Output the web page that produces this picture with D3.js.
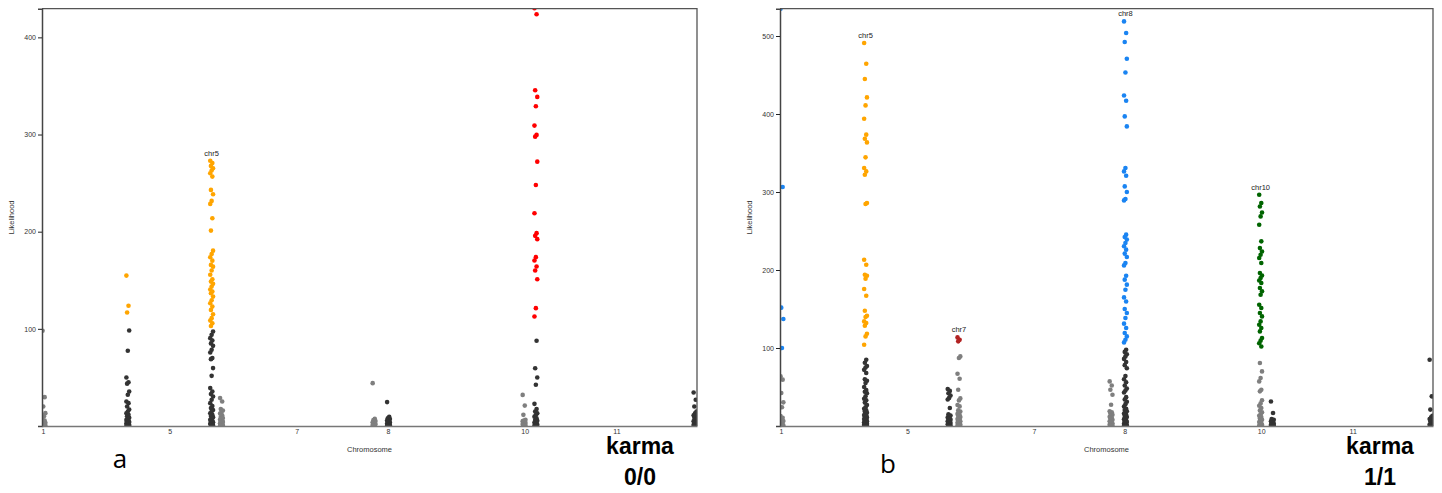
<!DOCTYPE html>
<html>
<head>
<meta charset="utf-8">
<script src="https://cdn.jsdelivr.net/npm/d3@7"></script>
<style>
  body { margin: 0; background: #fff; }
  svg { display: block; }
</style>
</head>
<body>
<div id="chart"></div>
<script>
// chromosome tick positions (cumulative genome position, percent) and labels
var tickPos = [0.15, 19.5, 38.9, 52.8, 73.7, 87.7];
var tickLabels = ["1", "5", "7", "8", "10", "11"];

// x position of each plotted column (percent of genome)
var colPos = [0.3, 13.1, 25.9, 27.4, 50.7, 52.9, 73.6, 75.4, 99.7];
var colBase = ["#7f7f7f", "#333333", "#333333", "#7f7f7f", "#7f7f7f", "#333333", "#7f7f7f", "#333333", "#333333"];

// panel a: likelihood values per column
var a1 = [98, 29.7, 20, 13.2, 10, 6.8, 5.5, 4.5, 3.4, 2.6, 2, 1.4, 1, 0.6, 0.3];
var a2 = [154.8, 123.7, 116.8, 98.3, 77.4, 49.9, 45, 43.6, 35.5, 32.1, 25.2, 23.5, 20.1, 17, 15, 13, 11.5, 10, 8.5, 7.3, 6.3, 5.5, 4.8, 4, 3.5, 2.8, 2.2, 1.6, 1, 0.6, 0.3];
var a3 = [273, 270.6, 267.7, 265.3, 262.9, 260.2, 256.7, 243, 238.5, 231.7, 228.6, 213.9, 201.1, 180.5, 177, 173.7, 170.2, 165.8, 164, 160, 155.6, 151, 148.6, 146.3, 143.5, 140.5, 138.4, 136.7, 133.2, 129.5, 126.3, 122.9, 119.5, 115, 111, 108.5, 105.8, 102.9,
          97.2, 93.8, 90.4, 88, 85, 82.5, 78.4, 75.6, 69.9, 68.8, 59.6, 51.6, 39, 35.5, 33, 30.3, 27, 23.5, 20.5, 18.4, 16.5, 14.9, 13, 11.5, 10.2, 9.1, 7.7, 6.4, 5.5, 4.6, 3.8, 3, 2.3, 1.8, 1.2, 0.6, 0.3];
var a4 = [28.7, 25.2, 17.5, 16, 14.5, 12.8, 11, 9.3, 8.2, 7.5, 6.6, 5.8, 5, 4.2, 3.5, 2.8, 2.1, 1.5, 1, 0.6, 0.3];
var a5 = [44.1, 7.5, 6, 5.2, 4.5, 3.8, 3.2, 2.6, 2, 1.5, 1, 0.6, 0.3];
var a6 = [24.6, 9.5, 8, 7.2, 6.5, 5.7, 5, 4.3, 3.6, 3, 2.4, 1.8, 1.3, 0.9, 0.5, 0.2];
var a7 = [32, 21, 11.5, 6.5, 5.7, 5, 4.4, 3.8, 3.2, 2.6, 2, 1.5, 1, 0.6, 0.3];
var a8 = [430, 423.8, 345.6, 338.7, 329.1, 309.2, 299.6, 297.8, 272.1, 248.1, 219, 198.5, 195.7, 192.3, 173.8, 170.3, 164.1, 160, 151.1, 121.3, 112.7,
          87.7, 59.5, 49.9, 42.4, 22.8, 17.4, 15, 13, 11.2, 9.6, 8, 6.2, 5.3, 4.5, 3.6, 2.8, 2.1, 1.5, 1, 0.5, 0.2];
var a9 = [34.5, 27, 20, 15, 13, 11, 9.7, 8.5, 7.2, 6, 5, 4, 3.2, 2.5, 1.8, 1.2, 0.7, 0.3];
var aHigh = [null, "#ffa500", "#ffa500", null, null, null, null, "#ff0000", null];
var aLabels = [null, null, "chr5", null, null, null, null, null, null];

// panel b
var b1 = [535, 306.4, 151.7, 137.2, 100, 63.6, 59.4, 42.3, 30.3, 24, 12.6, 10.5, 8.4, 6.5, 5, 3.5, 2, 1.3, 0.8, 0.3];
var b2 = [491, 464.5, 444.9, 421.3, 411, 394, 373.5, 368.3, 363.6, 344.4, 330.8, 326.4, 322.2, 285.9, 284.6, 213.2, 206.8, 194, 192.7, 188.8, 175.6, 167, 147.8, 141.4, 139.7, 134.1, 132, 128.6, 118.3, 114.9, 104.2,
          85, 81, 77, 75, 72, 68, 60, 58, 55, 50, 46, 44, 42, 38, 35, 33, 30, 27, 24, 22, 20, 18.5, 17, 15, 14, 13, 12, 11, 10, 9, 8, 7, 6.2, 5.5, 4.7, 4, 3.4, 2.8, 2.2, 1.6, 1.1, 0.6, 0.3];
var b3 = [47.4, 45, 42, 39, 36, 34, 23, 15, 13.5, 12.5, 11, 10, 9, 8, 7, 6, 5.2, 4.5, 3.7, 3, 2.4, 1.8, 1.2, 0.7, 0.3];
var b4 = [113.6, 110.6, 108.5, 89.2, 87.2, 67, 60.6, 46.5, 35.4, 32.8, 27, 25.1, 20, 18.5, 17, 15.5, 14, 12.7, 11.5, 10.2, 9, 8, 7, 6, 5, 4.1, 3.2, 2.5, 1.8, 1.2, 0.7, 0.3];
var b5 = [57.2, 52, 46.5, 40.1, 27.3, 19, 17.5, 16, 14.5, 13, 11.7, 10.5, 9.2, 8, 7, 6, 5, 4, 3.2, 2.5, 1.8, 1.2, 0.7, 0.3];
var b6 = [518.7, 503.8, 492.3, 470.9, 453.3, 423.8, 417, 396.9, 384.1, 330.8, 326.4, 320.9, 307.2, 300, 291, 289.2, 245.3, 242.3, 239, 234.7, 230.4, 226.1, 221, 216.6, 209, 205.9, 192.7, 187.6, 181.2, 174.7, 164.9, 159.7, 150, 144.9, 138.5, 131.2, 125.6, 119.2, 114.9, 110.6, 107.2,
          97.8, 95, 92, 89.2, 86, 82, 78, 74, 64, 60, 56, 52, 48, 45.5, 43, 37, 34, 31, 28, 25, 22, 20.5, 19, 17.5, 16, 14.5, 13, 11.5, 10, 8.8, 7.5, 6.2, 5, 4, 3, 2.2, 1.5, 1, 0.5, 0.2];
var b7 = [296.5, 285.9, 281.5, 273.8, 268.7, 258, 236.7, 228.1, 223.8, 219.6, 215.4, 209, 196.2, 193, 189.7, 186.5, 183.3, 176.9, 172.6, 168.3, 155.5, 151.3, 144.9, 140.5, 134.1, 129.8, 125.6, 121.3, 112.8, 109.4, 106, 102,
          80.8, 70, 61.5, 57.2, 46.5, 44.4, 33, 29, 26, 23, 20, 17.5, 15, 13, 11.5, 9.7, 8, 6.5, 5, 3.7, 2.5, 1.6, 0.8, 0.3];
var b8 = [31.5, 16.7, 9, 8, 7, 6, 5, 4, 3, 2.2, 1.5, 0.9, 0.5, 0.2];
var b9 = [85, 38, 21, 13, 11, 9, 7.5, 6, 4.5, 3, 2, 1.2, 0.5];
var bHigh = ["#1a84f2", "#ffa500", null, "#b22222", null, "#1a84f2", "#006400", null, null];
var bLabels = [null, "chr5", null, "chr7", null, "chr8", "chr10", null, null];

var threshold = 100;

var svg = d3.select("#chart").append("svg")
    .attr("width", 1442)
    .attr("height", 493)
    .style("font-family", "'Liberation Sans', Arial, sans-serif");

function drawPanel(id, box, yMax, yTicks, cols, high, labels) {
    var x = d3.scaleLinear().domain([0, 100]).range([box.x0, box.x1]);
    var y = d3.scaleLinear().domain([0, yMax]).range([box.y1, box.y0]);

    svg.append("clipPath").attr("id", "clip-" + id)
      .append("rect")
        .attr("x", box.x0).attr("y", box.y0)
        .attr("width", box.x1 - box.x0).attr("height", box.y1 - box.y0);

    var plot = svg.append("g").attr("clip-path", "url(#clip-" + id + ")");

    cols.forEach(function(vals, c) {
        var pts = vals.map(function(v, i) {
            // small deterministic sideways spread, like a jittered strip
            return { v: v, dx: ((i * 3) % 5 - 2) * 0.7 };
        });
        plot.selectAll(".pt-" + c)
            .data(pts)
            .enter()
            .append("circle")
            .attr("cx", d => x(colPos[c]) + d.dx)
            .attr("cy", d => y(d.v))
            .attr("r", 2.3)
            .attr("fill", d => (high[c] && d.v >= threshold) ? high[c] : colBase[c]);

        if (labels[c]) {
            plot.append("text")
                .attr("x", x(colPos[c]))
                .attr("y", y(d3.max(vals)) - 5)
                .attr("text-anchor", "middle")
                .attr("font-size", "7.5px")
                .attr("fill", "#222")
                .text(labels[c]);
        }
    });

    // frame
    svg.append("path")
        .attr("d", "M" + box.x0 + "," + box.y0 + "H" + box.x1 + "V" + box.y1)
        .attr("fill", "none")
        .attr("stroke", "#555")
        .attr("stroke-width", 1.3);

    var yAxis = svg.append("g")
        .attr("transform", "translate(" + box.x0 + ",0)")
        .call(d3.axisLeft(y).tickValues(yTicks).tickSize(4).tickPadding(2).tickFormat(d3.format("d")));
    yAxis.select(".domain").attr("stroke", "#444").attr("stroke-width", 1.5);
    yAxis.selectAll(".tick line").attr("stroke", "#222");
    yAxis.selectAll("text").attr("font-size", "7px").attr("fill", "#333")
        .attr("font-family", "'Liberation Sans', Arial, sans-serif");

    var xAxis = svg.append("g")
        .attr("transform", "translate(0," + box.y1 + ")")
        .call(d3.axisBottom(x).tickValues(tickPos).tickSize(0).tickPadding(3)
              .tickFormat((d, i) => tickLabels[i]));
    xAxis.select(".domain").attr("stroke", "#777").attr("stroke-width", 1.5);
    xAxis.selectAll("text").attr("font-size", "7px").attr("fill", "#333")
        .attr("font-family", "'Liberation Sans', Arial, sans-serif");

    svg.append("text")
        .attr("x", (box.x0 + box.x1) / 2)
        .attr("y", box.y1 + 26)
        .attr("text-anchor", "middle")
        .attr("font-size", "7.5px")
        .attr("fill", "#333")
        .text("Chromosome");

    svg.append("text")
        .attr("transform", "translate(" + (box.x0 - 28) + "," + ((box.y0 + box.y1) / 2) + ") rotate(-90)")
        .attr("text-anchor", "middle")
        .attr("font-size", "7.5px")
        .attr("fill", "#333")
        .text("Likelihood");
}

drawPanel("a", {x0: 42, x1: 697, y0: 8.7, y1: 426}, 429.5, [100, 200, 300, 400],
          [a1, a2, a3, a4, a5, a6, a7, a8, a9], aHigh, aLabels);
drawPanel("b", {x0: 780, x1: 1433, y0: 8.7, y1: 426}, 535, [100, 200, 300, 400, 500],
          [b1, b2, b3, b4, b5, b6, b7, b8, b9], bHigh, bLabels);

// panel letters and karma captions
svg.append("text").attr("x", 120).attr("y", 468)
    .attr("text-anchor", "middle").attr("font-size", "26px")
    .attr("font-family", "'Open Sans', sans-serif").text("a");
svg.append("text").attr("x", 888).attr("y", 473)
    .attr("text-anchor", "middle").attr("font-size", "26px")
    .attr("font-family", "'Open Sans', sans-serif").text("b");

[[640, "0/0"], [1380, "1/1"]].forEach(function(k) {
    svg.append("text").attr("x", k[0]).attr("y", 454)
        .attr("text-anchor", "middle").attr("font-size", "23px").attr("font-weight", "bold")
        .text("karma");
    svg.append("text").attr("x", k[0]).attr("y", 485)
        .attr("text-anchor", "middle").attr("font-size", "23px").attr("font-weight", "bold")
        .text(k[1]);
});
</script>
</body>
</html>
